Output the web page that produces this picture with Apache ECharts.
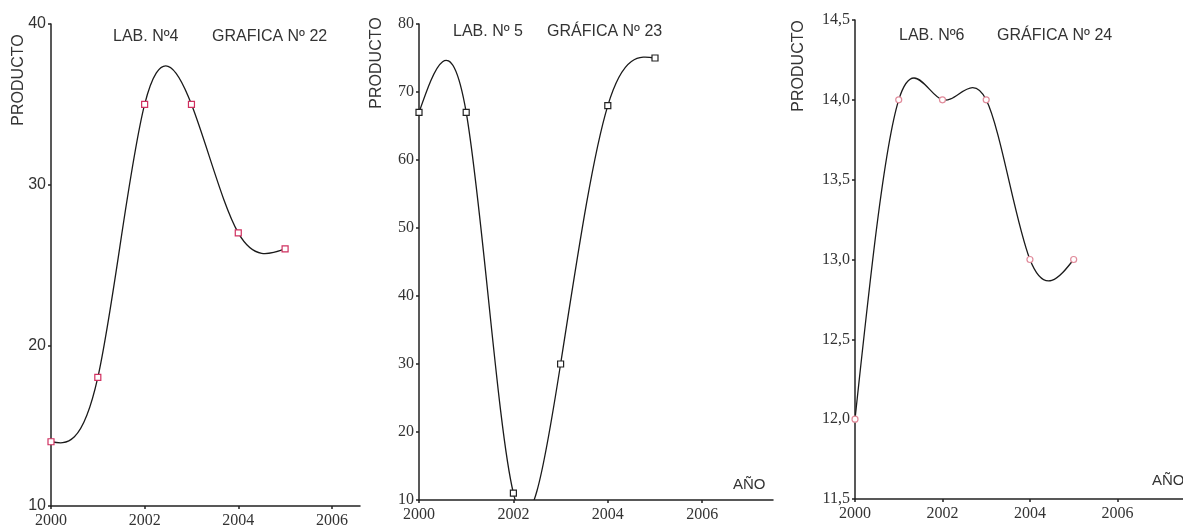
<!DOCTYPE html>
<html>
<head>
<meta charset="utf-8">
<script src="https://cdn.jsdelivr.net/npm/echarts@6/dist/echarts.min.js"></script>
<style>html,body{margin:0;padding:0;background:#fff;}#c{width:1183px;height:529px;}</style>
</head>
<body>
<div id="c"></div>
<script>
// Data
const years = [2000, 2001, 2002, 2003, 2004, 2005];
const lab4 = [14, 18, 35, 35, 27, 26];
const lab5 = [67, 67, 11, 30, 68, 75];
const lab6 = [12.0, 14.0, 14.0, 14.0, 13.0, 13.0];
const xTicks = [2000, 2002, 2004, 2006];
const titles = [['LAB. Nº4', 'GRAFICA Nº 22'], ['LAB. Nº 5', 'GRÁFICA Nº 23'], ['LAB. Nº6', 'GRÁFICA Nº 24']];
const yName = 'PRODUCTO';
const xName = 'AÑO';

const pairs = (ys) => years.map((y, i) => [y, ys[i]]);
const comma = (v) => v.toFixed(1).replace('.', ',');

// Natural cubic spline second derivatives (rendering of the curve style only)
function splineM(xs, ys) {
  const n = xs.length, M = new Array(n).fill(0);
  if (n < 3) return M;
  const a = [], b = [], c = [], d = [];
  for (let i = 1; i < n - 1; i++) {
    const h0 = xs[i] - xs[i - 1], h1 = xs[i + 1] - xs[i];
    a.push(h0); b.push(2 * (h0 + h1)); c.push(h1);
    d.push(6 * ((ys[i + 1] - ys[i]) / h1 - (ys[i] - ys[i - 1]) / h0));
  }
  const m = b.length;
  for (let i = 1; i < m; i++) {
    const w = a[i] / b[i - 1];
    b[i] -= w * c[i - 1]; d[i] -= w * d[i - 1];
  }
  const sol = new Array(m);
  sol[m - 1] = d[m - 1] / b[m - 1];
  for (let i = m - 2; i >= 0; i--) sol[i] = (d[i] - c[i] * sol[i + 1]) / b[i];
  for (let i = 0; i < m; i++) M[i + 1] = sol[i];
  return M;
}

function splineSeries(i, ys) {
  const M = splineM(years, ys);
  return {
    type: 'custom', xAxisIndex: i, yAxisIndex: i, data: pairs(ys), z: 2, silent: true,
    renderItem: function (params, api) {
      const k = params.dataIndex;
      if (k >= years.length - 1) return null;
      const x0 = years[k], x1 = years[k + 1], y0 = ys[k], y1 = ys[k + 1], h = x1 - x0;
      const s = (y1 - y0) / h;
      const d0 = s - h * (2 * M[k] + M[k + 1]) / 6;
      const d1 = s + h * (M[k] + 2 * M[k + 1]) / 6;
      const p0 = api.coord([x0, y0]);
      const p1 = api.coord([x0 + h / 3, y0 + d0 * h / 3]);
      const p2 = api.coord([x1 - h / 3, y1 - d1 * h / 3]);
      const p3 = api.coord([x1, y1]);
      const cs = params.coordSys;
      return {
        type: 'group',
        clipPath: { type: 'rect', shape: { x: cs.x, y: cs.y - 2, width: cs.width, height: cs.height + 2 } },
        children: [{
          type: 'bezierCurve',
          shape: { x1: p0[0], y1: p0[1], cpx1: p1[0], cpy1: p1[1], cpx2: p2[0], cpy2: p2[1], x2: p3[0], y2: p3[1] },
          style: { stroke: '#1a1a1a', lineWidth: 1.3, fill: null }
        }]
      };
    }
  };
}

const axisLine = { show: true, lineStyle: { color: '#222', width: 1.5 } };
const serif = '"Liberation Serif", "Times New Roman", serif';
const sans = '"Liberation Sans", Arial, sans-serif';

function xAx(i, max) {
  return {
    type: 'value', gridIndex: i, min: 2000, max: max,
    axisLine: axisLine, splitLine: { show: false },
    axisTick: { show: true, length: 3, customValues: xTicks, lineStyle: { color: '#222', width: 1.5 } },
    axisLabel: { customValues: xTicks, color: '#333', fontFamily: serif, fontSize: 16, margin: 7, formatter: (v) => String(v) }
  };
}
function yAx(i, min, max, interval, fmt, fam, size) {
  return {
    type: 'value', gridIndex: i, min: min, max: max, interval: interval,
    axisLine: axisLine, splitLine: { show: false },
    axisTick: { show: true, length: 3, lineStyle: { color: '#222', width: 1.5 } },
    axisLabel: { color: '#333', fontFamily: fam, fontSize: size, margin: 5, formatter: fmt }
  };
}
function markers(i, data, symbol, size, mColor) {
  return {
    type: 'line', xAxisIndex: i, yAxisIndex: i, data: pairs(data),
    symbol: symbol, symbolSize: size, showSymbol: true,
    lineStyle: { width: 0, opacity: 0 },
    itemStyle: { color: '#fff', borderColor: mColor, borderWidth: 1.2 },
    z: 3
  };
}
function txt(x, y, text, size, rot) {
  return {
    type: 'text', x: x, y: y, rotation: rot || 0,
    style: { text: text, font: size + 'px ' + sans, fill: '#333',
      textAlign: rot ? 'center' : 'left', textVerticalAlign: 'middle',
      align: rot ? 'center' : 'left', verticalAlign: 'middle' }
  };
}

const option = {
  backgroundColor: '#fff',
  animation: false,
  grid: [
    { left: 51, top: 24, width: 309, height: 482 },
    { left: 419, top: 24, width: 354, height: 476 },
    { left: 855, top: 20, width: 341, height: 479 }
  ],
  xAxis: [xAx(0, 2006.6), xAx(1, 2007.5), xAx(2, 2007.5)],
  yAxis: [
    yAx(0, 10, 40, 10, (v) => String(v), sans, 16),
    yAx(1, 10, 80, 10, (v) => String(v), serif, 16),
    yAx(2, 11.5, 14.5, 0.5, comma, serif, 16)
  ],
  series: [
    splineSeries(0, lab4), splineSeries(1, lab5), splineSeries(2, lab6),
    markers(0, lab4, 'rect', 6, '#d03060'),
    markers(1, lab5, 'rect', 6, '#222'),
    markers(2, lab6, 'circle', 6, '#e08a9a')
  ],
  graphic: [
    txt(113, 37, titles[0][0], 16), txt(212, 37, titles[0][1], 16),
    txt(453, 32, titles[1][0], 16), txt(547, 32, titles[1][1], 16),
    txt(899, 36, titles[2][0], 16), txt(997, 36, titles[2][1], 16),
    txt(19, 80, yName, 16, Math.PI / 2),
    txt(377, 63, yName, 16, Math.PI / 2),
    txt(799, 66, yName, 16, Math.PI / 2),
    txt(733, 485, xName, 15),
    txt(1152, 481, xName, 15)
  ]
};

const chart = echarts.init(document.getElementById('c'), null, { renderer: 'canvas' });
chart.setOption(option);
</script>
</body>
</html>
